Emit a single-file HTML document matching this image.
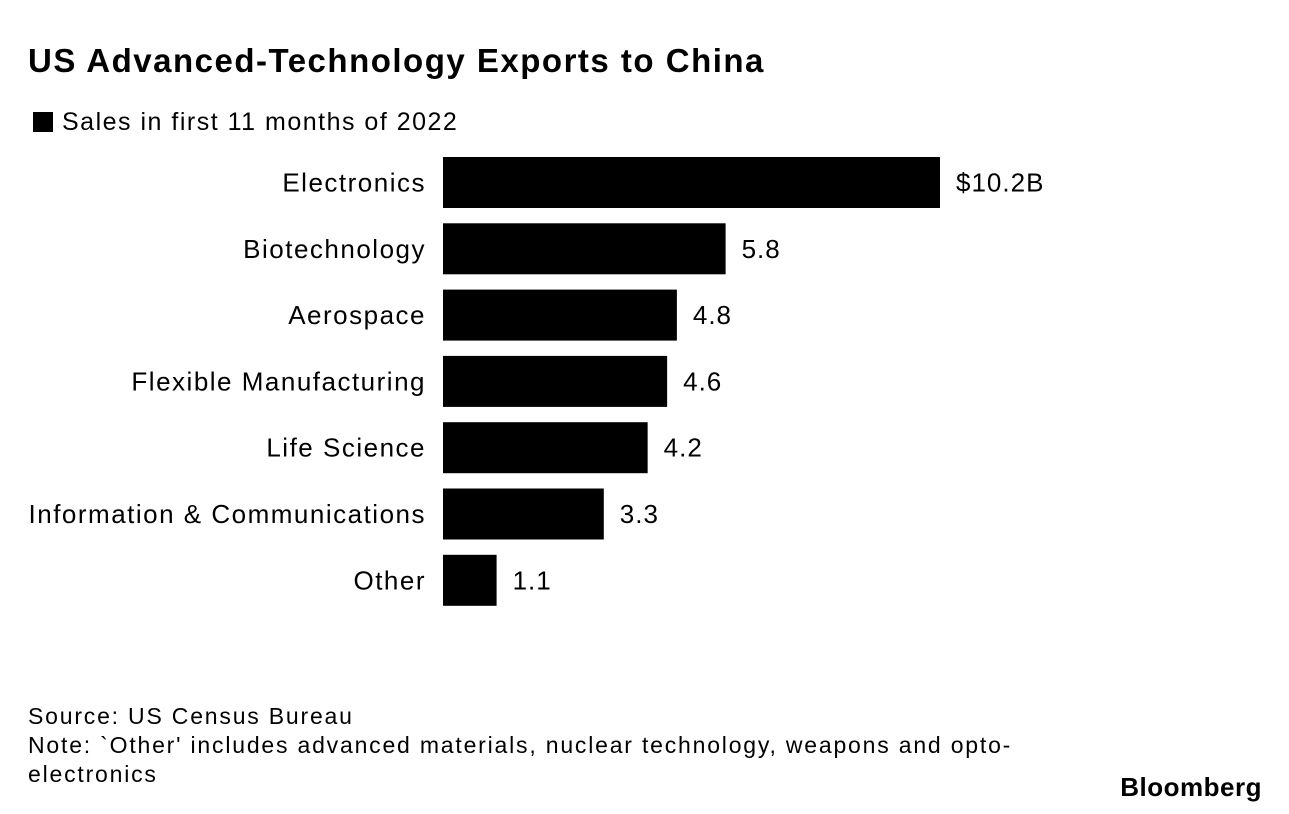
<!DOCTYPE html>
<html><head><meta charset="utf-8"><style>
body{margin:0;width:1289px;height:814px;background:#fff;font-family:"Liberation Sans",sans-serif;color:#000;position:relative;overflow:hidden}
.t{position:absolute;white-space:nowrap}
</style></head><body>
<div class="t" style="left:28px;top:42px;font-size:33px;font-weight:bold;letter-spacing:1.5px">US Advanced-Technology Exports to China</div>
<div class="t" style="left:33px;top:108px;font-size:25px;letter-spacing:1.5px"><span style="display:inline-block;width:20px;height:20px;background:#000;vertical-align:-2px;margin-right:9px"></span>Sales in first 11 months of 2022</div>
<svg id="chart" width="1289" height="814" style="position:absolute;left:0;top:0"></svg>
<div class="t" style="left:28px;top:702px;font-size:23px;line-height:29px;letter-spacing:1.8px">Source: US Census Bureau<br>Note: `Other' includes advanced materials, nuclear technology, weapons and opto-<br>electronics</div>
<div class="t" style="right:27px;top:772px;font-size:26px;font-weight:bold;letter-spacing:0.5px">Bloomberg</div>
<script>
const categories=["Electronics","Biotechnology","Aerospace","Flexible Manufacturing","Life Science","Information & Communications","Other"];
const values=[10.2,5.8,4.8,4.6,4.2,3.3,1.1];
const valueLabels=["$10.2B","5.8","4.8","4.6","4.2","3.3","1.1"];
const svg=document.getElementById('chart');
const NS="http://www.w3.org/2000/svg";
const x0=443,scale=497/10.2;
const xs=v=>x0+v*scale;
const ys=i=>157+i*66.3;
const bh=51;
categories.forEach((c,i)=>{
 const r=document.createElementNS(NS,'rect');
 r.setAttribute('x',x0);r.setAttribute('y',ys(i));
 r.setAttribute('width',xs(values[i])-x0);r.setAttribute('height',bh);r.setAttribute('fill','#000');
 
 
 svg.appendChild(r);
 const l=document.createElementNS(NS,'text');
 l.setAttribute('x',426);l.setAttribute('y',ys(i)+bh/2+9);l.setAttribute('text-anchor','end');
 l.setAttribute('font-size','26');l.setAttribute('font-family','Liberation Sans, sans-serif');
 l.setAttribute('letter-spacing','1.5');
 l.textContent=c;
 
 
 svg.appendChild(l);
 const v=document.createElementNS(NS,'text');
 v.setAttribute('x',xs(values[i])+16);v.setAttribute('y',ys(i)+bh/2+9);
 v.setAttribute('font-size','26');v.setAttribute('font-family','Liberation Sans, sans-serif');
 v.setAttribute('letter-spacing','1');
 v.textContent=valueLabels[i];
 
 
 svg.appendChild(v);
});
</script>
</body></html>
